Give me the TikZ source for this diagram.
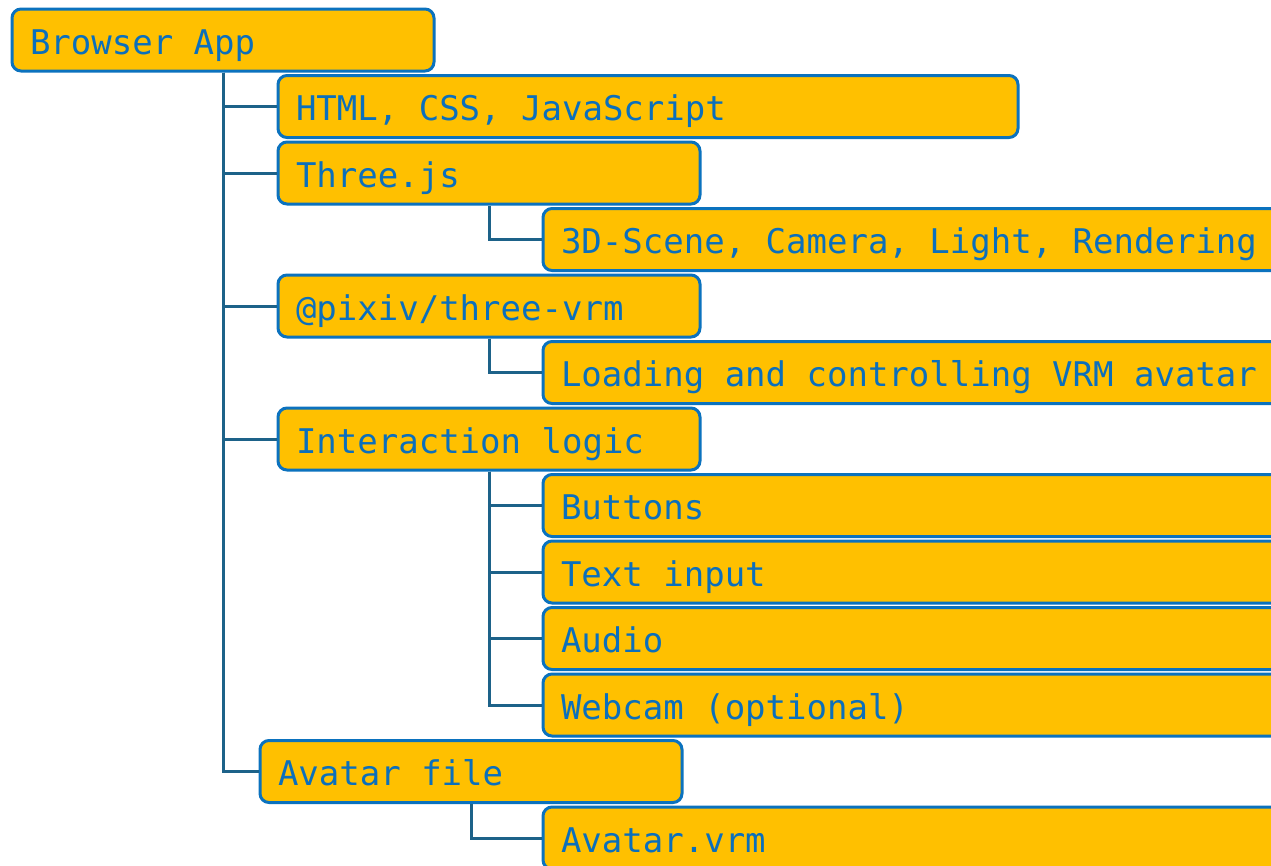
\documentclass[tikz,border=0pt]{standalone}
\usepackage{fontspec}
\newfontfamily\treefont{DejaVu Sans Mono}
\definecolor{boxfill}{HTML}{FFC000}
\definecolor{boxline}{HTML}{0B72BE}
\definecolor{boxtext}{HTML}{0B6FBC}
\definecolor{wirecol}{HTML}{1D6289}
% fixed-pitch interword space, one full character cell
\newcommand{\treetype}{\treefont\fontsize{34}{40}\selectfont
  \fontdimen2\font=0.602em \fontdimen3\font=0pt \fontdimen4\font=0pt}
\tikzset{
  item/.style={draw=boxline, fill=boxfill, line width=3pt, rounded corners=9pt,
    anchor=north west, minimum height=62pt, inner xsep=18pt, inner ysep=0pt,
    text width=#1, align=flush left, text height=32pt, text depth=4pt,
    font=\treetype, text=boxtext,
    execute at begin node={\spaceskip=0.602em\relax\xspaceskip=0.602em\relax}},
  wire/.style={draw=wirecol, line width=3pt}
}
\begin{document}
\begin{tikzpicture}[x=1pt,y=-1pt]
  \useasboundingbox (0,0) rectangle (1271,865);
  \clip (0,0) rectangle (1271,865);
  % first level
  \node[item=386pt] (app) at (10.5,7.5) {Browser App};
  \node[item=704pt] (web) at (276.5,74) {HTML, CSS, JavaScript};
  \node[item=386pt] (three) at (276.5,140.5) {Three.js};
  \node[item=740pt] (scene) at (541.5,207) {3D-Scene, Camera, Light, Rendering};
  \node[item=386pt] (vrm) at (276.5,273.5) {@pixiv/three-vrm};
  \node[item=740pt] (load) at (541.5,340) {Loading and controlling VRM avatar};
  \node[item=386pt] (logic) at (276.5,406.5) {Interaction logic};
  \node[item=740pt] (btn) at (541.5,473) {Buttons};
  \node[item=740pt] (txt) at (541.5,539.5) {Text input};
  \node[item=740pt] (aud) at (541.5,606) {Audio};
  \node[item=740pt] (cam) at (541.5,672.5) {Webcam (optional)};
  \node[item=386pt] (file) at (258.5,739) {Avatar file};
  \node[item=740pt] (vrmfile) at (541.5,805.5) {Avatar.vrm};
  % connectors
  \foreach \c in {web,three,vrm,logic,file}
    \draw[wire] (app.south) |- (\c.west);
  \draw[wire] (three.south) |- (scene.west);
  \draw[wire] (vrm.south) |- (load.west);
  \foreach \c in {btn,txt,aud,cam}
    \draw[wire] (logic.south) |- (\c.west);
  \draw[wire] (file.south) |- (vrmfile.west);
\end{tikzpicture}
\end{document}
